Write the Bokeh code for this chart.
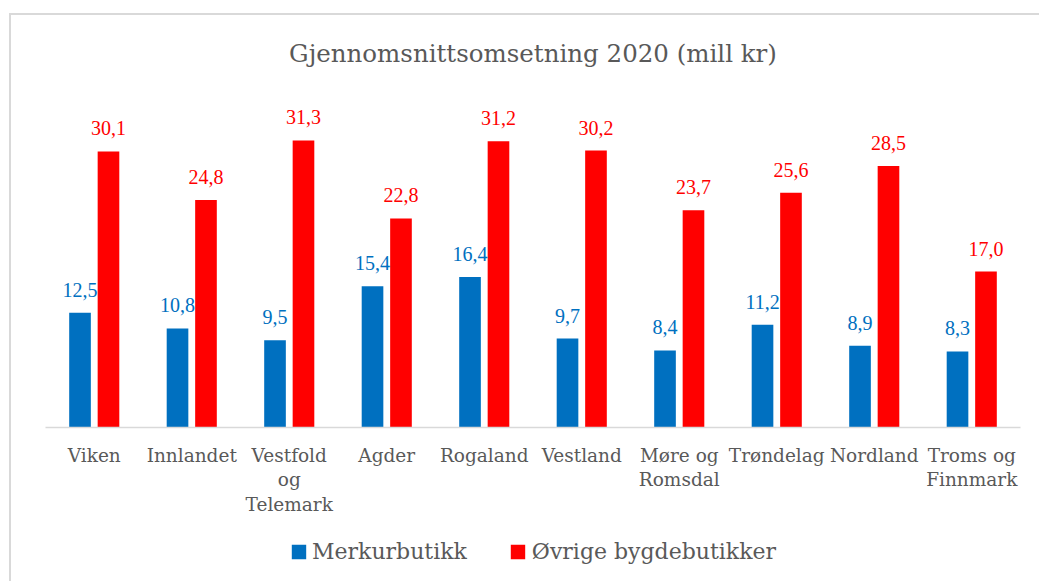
from bokeh.plotting import figure
from bokeh.layouts import column
from bokeh.models import ColumnDataSource, FactorRange, Range1d, LabelSet, Legend, LegendItem
from bokeh.transform import dodge
from bokeh.embed import file_html
from bokeh.resources import INLINE

categories = ["Viken", "Innlandet", "Vestfold\nog\nTelemark", "Agder", "Rogaland",
              "Vestland", "Møre og\nRomsdal", "Trøndelag", "Nordland", "Troms og\nFinnmark"]
merkur = [12.5, 10.8, 9.5, 15.4, 16.4, 9.7, 8.4, 11.2, 8.9, 8.3]
ovrige = [30.1, 24.8, 31.3, 22.8, 31.2, 30.2, 23.7, 25.6, 28.5, 17.0]
series_names = ["Merkurbutikk", "Øvrige bygdebutikker"]
title_text = "Gjennomsnittsomsetning 2020 (mill kr)"

FONT = "DejaVu Serif"
BLUE = "#0070C0"
RED = "#FF0000"
GRAY = "#595959"
FRAME_GRAY = "#d9d9d9"

def fmt(v):
    return f"{v:.1f}".replace(".", ",")

source = ColumnDataSource(data=dict(
    cat=categories,
    merkur=merkur,
    ovrige=ovrige,
    merkur_txt=[fmt(v) for v in merkur],
    ovrige_txt=[fmt(v) for v in ovrige],
))

x_range = FactorRange(factors=categories, range_padding=0)

p = figure(
    width=1039, height=531,
    x_range=x_range,
    y_range=Range1d(0, 35),
    output_backend="svg", toolbar_location=None,
    min_border_left=45, min_border_right=19, min_border_top=106, min_border_bottom=104,
    background_fill_color=None, border_fill_color=None,
)

p.title.text = title_text
p.title.text_font = FONT
p.title.text_font_size = "24.5px"
p.title.text_font_style = "normal"
p.title.text_color = GRAY
p.title.align = "center"
p.title.vertical_align = "top"
p.title.standoff = 74

off = 0.146
w = 0.222
p.vbar(x=dodge("cat", -off, range=x_range), top="merkur", width=w, source=source,
       fill_color=BLUE, line_color=None)
p.vbar(x=dodge("cat", off, range=x_range), top="ovrige", width=w, source=source,
       fill_color=RED, line_color=None)

for col, txt, dx, color in [("merkur", "merkur_txt", -off, BLUE), ("ovrige", "ovrige_txt", off, RED)]:
    ls = LabelSet(x=dodge("cat", dx, range=x_range), y=col, text=txt, source=source,
                  y_offset=23, text_align="center", text_baseline="middle",
                  text_font=FONT, text_font_size="20px", text_color=color)
    p.add_layout(ls)

p.yaxis.visible = False
p.xgrid.grid_line_color = None
p.ygrid.grid_line_color = None
p.outline_line_color = None

ax = p.xaxis[0]
ax.axis_line_color = FRAME_GRAY
ax.axis_line_width = 1.5
ax.major_tick_line_color = None
ax.minor_tick_line_color = None
ax.major_tick_out = 0
ax.major_tick_in = 0
ax.major_label_standoff = 17
ax.major_label_text_font = FONT
ax.major_label_text_font_size = "18.5px"
ax.major_label_text_color = GRAY
ax.major_label_text_line_height = 1.17

# legend strip below the chart (bars lie far outside its view, only the legend shows)
p2 = figure(width=1039, height=40, x_range=x_range, y_range=Range1d(1000, 1001),
            output_backend="svg", toolbar_location=None,
            x_axis_location=None, y_axis_location=None,
            min_border_left=0, min_border_right=0, min_border_top=0, min_border_bottom=0,
            background_fill_color=None, border_fill_color=None)
p2.xgrid.grid_line_color = None
p2.ygrid.grid_line_color = None
p2.outline_line_color = None
s1 = p2.vbar(x=dodge("cat", -off, range=x_range), top="merkur", width=w, source=source,
             fill_color=BLUE, line_color=None)
s2 = p2.vbar(x=dodge("cat", off, range=x_range), top="ovrige", width=w, source=source,
             fill_color=RED, line_color=None)

legend = Legend(items=[LegendItem(label=series_names[0], renderers=[s1]),
                       LegendItem(label=series_names[1], renderers=[s2])],
                orientation="horizontal", location="center",
                border_line_color=None, background_fill_alpha=0,
                glyph_width=18, glyph_height=18, label_standoff=5, spacing=42,
                label_text_font=FONT, label_text_font_size="22px", label_text_color=GRAY,
                padding=4, margin=0)
p2.add_layout(legend, "center")

frame_bg = ("linear-gradient(#d9d9d9, #d9d9d9) 9px 13px / 100% 2px no-repeat, "
            "linear-gradient(#d9d9d9, #d9d9d9) 9px 13px / 2px 100% no-repeat, #ffffff")
layout = column(p, p2, spacing=0, styles={"background": frame_bg, "padding-bottom": "10px"})
open("out.html", "w").write(file_html(layout, INLINE))
